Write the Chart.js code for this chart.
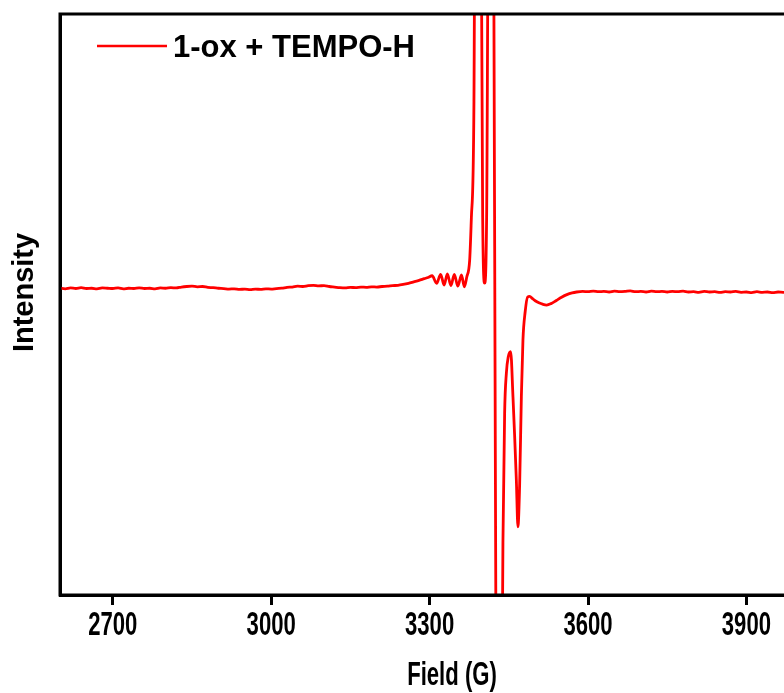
<!DOCTYPE html>
<html><head><meta charset="utf-8">
<script src="https://cdn.jsdelivr.net/npm/chart.js@4.4.0/dist/chart.umd.min.js"></script>
<style>
html,body{margin:0;padding:0;background:#fff;overflow:hidden;}
#wrap{position:relative;width:854px;height:693px;}
</style></head><body>
<div id="wrap"><canvas id="c"></canvas></div>
<script>
const SERIES_LABEL = '1-ox + TEMPO-H';
const X_TITLE = 'Field (G)';
const Y_TITLE = 'Intensity';
const X_TICKS = [2700, 3000, 3300, 3600, 3900];
const FIELD = [
 2600,2610,2620,2630,2640,2650,2660,2670,2680,2690,
 2700,2710,2720,2730,2740,2750,2760,2770,2780,2790,
 2800,2810,2820,2830,2840,2850,2860,2870,2880,2890,
 2900,2910,2920,2930,2940,2950,2960,2970,2980,2990,
 3000,3010,3020,3030,3040,3050,3060,3070,3080,3090,
 3100,3110,3120,3130,3140,3150,3160,3170,3180,3190,
 3200,3210,3220,3230,3240,3250,3260,3270,3280,3290,3297,
 3304.8,3313.3,3320.9,3327.5,3333.6,3340.4,3346.8,3353.5,3360.3,3365.8,
 3370.3,3375.9,3379.1,3384,3390,3400.5,3404.2,3408,3415.5,3431,
 3438.9,3442.1,3445.4,3449,3453.5,3457.9,3461,3464.3,3467.3,3470.6,
 3473.8,3476.8,3481,3485.7,3489.5,3495,3500,3507,3514,3521.7,
 3530,3540,3550,3560,3570,3578.5,3590,
 3600,3610,3620,3630,3640,3650,3660,3670,3680,3690,
 3700,3710,3720,3730,3740,3750,3760,3770,3780,3790,
 3800,3810,3820,3830,3840,3850,3860,3870,3880,3890,
 3900,3910,3920,3930,3940,3950,3960,3970,3980,3990,4000
];
const INTENSITY = [
 5.6,5.4,5.7,5.5,5.8,5.5,5.6,5.4,5.7,5.6,
 5.5,5.7,5.4,5.6,5.5,5.7,5.5,5.6,5.4,5.7,
 5.6,5.8,5.7,6.0,6.2,6.3,6.1,6.2,5.9,5.8,
 5.6,5.5,5.3,5.4,5.2,5.3,5.1,5.3,5.2,5.4,
 5.3,5.5,5.6,5.9,6.0,6.3,6.2,6.5,6.6,6.4,
 6.5,6.2,6.0,5.8,5.7,5.9,5.8,6.0,5.9,6.1,
 6.0,6.2,6.3,6.5,6.6,6.9,7.3,7.8,8.3,8.9,9.3,
 9.9,7.3,10.4,6.7,10.5,6.5,10.4,6.3,10.2,6.1,
 9.4,15.3,29.8,70,380,30,7.4,30,320,-280,
 -81.9,-37.5,-23.6,-18.0,-16.2,-31.7,-45,-60.4,-76.5,-61.5,
 -31.7,-12.2,-2.5,2.6,2.8,2.0,1.3,0.6,0.1,-0.2,
 0.3,1.4,2.5,3.4,4.0,4.3,4.5,
 4.4,4.6,4.4,4.5,4.3,4.6,4.4,4.5,4.7,4.4,
 4.5,4.3,4.6,4.4,4.5,4.3,4.5,4.4,4.6,4.3,
 4.4,4.2,4.5,4.3,4.4,4.2,4.4,4.3,4.5,4.2,
 4.3,4.1,4.4,4.2,4.3,4.1,4.3,4.2,4.3,4.2,4.2
];
const X_MIN = 2600, X_MAX = 4100;
const Y_MIN = -100, Y_MAX = 100;

const RED = '#ff0000';
const FONT = "'Liberation Sans', Arial, sans-serif";
const SQUEEZE = 0.67;

const points = FIELD.map((f, i) => ({x: f, y: INTENSITY[i]}));

const framePlugin = {
  id: 'frame',
  afterDatasetsDraw(chart) {
    const {ctx, chartArea: a} = chart;
    ctx.save();
    ctx.strokeStyle = '#000';
    ctx.lineWidth = 3;
    ctx.strokeRect(a.left, a.top, a.right - a.left, a.bottom - a.top);
    ctx.restore();
  }
};

const textPlugin = {
  id: 'texts',
  afterDraw(chart) {
    const {ctx, chartArea: a} = chart;
    const xs = chart.scales.x;
    const ds = chart.data.datasets[0];
    ctx.save();
    // legend inside plot
    ctx.strokeStyle = ds.borderColor;
    ctx.lineWidth = 2.5;
    ctx.beginPath();
    ctx.moveTo(97, 46);
    ctx.lineTo(167, 46);
    ctx.stroke();
    ctx.fillStyle = '#000';
    ctx.font = 'bold 31px ' + FONT;
    ctx.textBaseline = 'alphabetic';
    ctx.textAlign = 'left';
    ctx.fillText(ds.label, 173, 57);
    // x tick labels (condensed)
    ctx.font = 'bold 33px ' + FONT;
    ctx.textAlign = 'center';
    ctx.textBaseline = 'middle';
    xs.ticks.forEach(t => {
      const px = xs.getPixelForValue(t.value);
      ctx.save();
      ctx.translate(px, a.bottom + 31);
      ctx.scale(SQUEEZE, 1);
      ctx.fillText(String(t.value), 0, 0);
      ctx.restore();
    });
    // x title
    ctx.save();
    ctx.translate((a.left + a.right) / 2 - 4, 676);
    ctx.scale(SQUEEZE, 1);
    ctx.fillText(X_TITLE, 0, 0);
    ctx.restore();
    // y title
    ctx.save();
    ctx.translate(25, (a.top + a.bottom) / 2 - 12);
    ctx.rotate(-Math.PI / 2);
    ctx.font = 'bold 29px ' + FONT;
    ctx.fillText(Y_TITLE, 0, 0);
    ctx.restore();
    ctx.restore();
  }
};

new Chart(document.getElementById('c'), {
  type: 'line',
  data: {
    datasets: [{
      label: SERIES_LABEL,
      data: points,
      borderColor: RED,
      backgroundColor: RED,
      borderWidth: 2.8,
      pointRadius: 0,
      cubicInterpolationMode: 'monotone',
      clip: 0
    }]
  },
  options: {
    responsive: true,
    maintainAspectRatio: false,
    animation: false,
    layout: {padding: {top: 14, right: 2, left: 0, bottom: 0}},
    plugins: {legend: {display: false}, tooltip: {enabled: false}},
    scales: {
      x: {
        type: 'linear',
        min: X_MIN, max: X_MAX,
        afterBuildTicks: s => { s.ticks = X_TICKS.map(v => ({value: v})); },
        afterFit: s => { s.height = 98; },
        grid: {display: true, drawOnChartArea: false, drawTicks: true, tickLength: 10, tickWidth: 3, tickColor: '#000', color: '#000'},
        border: {display: true, color: '#000', width: 3},
        ticks: {display: false},
        title: {display: false, text: X_TITLE}
      },
      y: {
        type: 'linear',
        min: Y_MIN, max: Y_MAX,
        afterFit: s => { s.width = 60; },
        grid: {display: false},
        border: {display: true, color: '#000', width: 3},
        ticks: {display: false},
        title: {display: false, text: Y_TITLE}
      }
    }
  },
  plugins: [framePlugin, textPlugin]
});
</script>
</body></html>
